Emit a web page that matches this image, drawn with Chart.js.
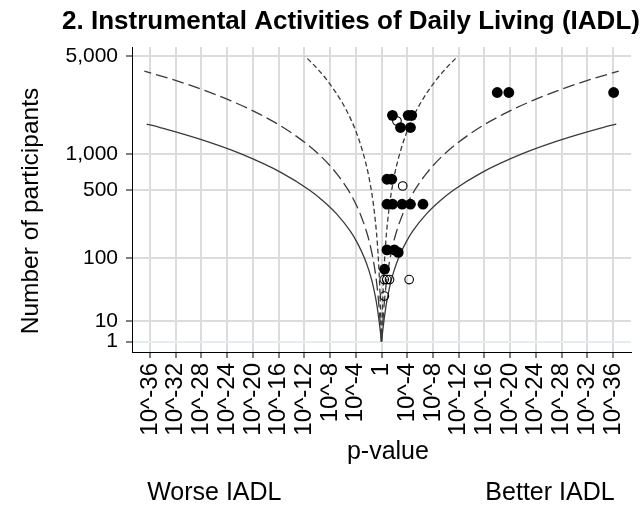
<!DOCTYPE html>
<html>
<head>
<meta charset="utf-8">
<script src="https://cdn.jsdelivr.net/npm/chart.js@4.4.1/dist/chart.umd.min.js"></script>
<style>
  html, body { margin: 0; padding: 0; background: #ffffff; }
  #wrap { width: 643px; height: 507px; }
</style>
</head>
<body>
<div id="wrap"><canvas id="c" width="643" height="507"></canvas></div>
<script>
// ---------------- data ----------------
const chartTitle = '2. Instrumental Activities of Daily Living (IADL)';
const yAxisTitle = 'Number of participants';
const xAxisTitle = 'p-value';
const leftNote = 'Worse IADL';
const rightNote = 'Better IADL';

// x ticks: signed exponent of p (negative = worse, positive = better)
const xTickExps = [-36, -32, -28, -24, -20, -16, -12, -8, -4, 0, 4, 8, 12, 16, 20, 24, 28, 32, 36];
const yTickValues = [1, 10, 100, 500, 1000, 5000];
const yTickLabels = ['1', '10', '100', '500', '1,000', '5,000'];

// studies with filled markers: signed -log10(p), participants
const filledP = [1.7, 4.15, 4.7, 2.95, 4.5, 18.0, 19.8, 36.1, 0.85, 1.6, 0.85, 1.72, 3.2, 4.5, 6.45, 0.85, 2.0, 2.6, 0.48];
const filledN = [1970, 1970, 1970, 1600, 1600, 2860, 2860, 2860, 617, 617, 369, 369, 369, 369, 369, 125, 125, 117, 73];

// studies with hollow markers
const hollowP = [2.4, 3.3, 0.42, 0.82, 1.25, 4.3, 0.45];
const hollowN = [1790, 539, 53, 53, 53, 53, 30];

// effect contours (right-hand side; left side is the mirror image)
// r = 0.3 (solid)
const c30N = [1, 5, 10, 20, 30, 50, 70, 100, 150, 200, 300, 400, 500, 700, 1000, 1300, 1600, 1700];
const c30P = [0, 0.18, 0.38, 0.69, 0.97, 1.47, 1.95, 2.64, 3.76, 4.85, 7.02, 9.16, 11.28, 15.52, 21.83, 28.13, 34.42, 36.51];
// r = 0.2 (long dash)
const c20N = [1, 10, 20, 30, 50, 70, 100, 150, 200, 300, 400, 500, 700, 1000, 1500, 2000, 2500, 3000, 3500, 4000];
const c20P = [0, 0.23, 0.39, 0.53, 0.78, 1.01, 1.34, 1.85, 2.35, 3.32, 4.27, 5.21, 7.06, 9.81, 14.36, 18.88, 23.39, 27.89, 32.39, 36.88];
// r = 0.1 (short dash)
const c10N = [1, 10, 30, 50, 70, 100, 150, 200, 300, 400, 500, 700, 1000, 1500, 2000, 2500, 3000, 3500, 4000, 4500, 5000];
const c10P = [0, 0.10, 0.22, 0.31, 0.39, 0.49, 0.65, 0.80, 1.08, 1.34, 1.60, 2.09, 2.82, 3.98, 5.13, 6.27, 7.40, 8.53, 9.65, 10.77, 11.88];

// ---------------- helpers ----------------
// vertical axis is drawn on the squared-log scale used by the original figure
const tN = n => Math.pow(Math.log10(n), 2);
const pts = (ps, ns, sign) => ps.map((p, i) => ({ x: sign * p, y: tN(ns[i]) }));

const FONT = '"Liberation Sans", Arial, Helvetica, sans-serif';
const lineCol = '#3a3a3a';

function contour(ps, ns, sign, dash) {
  return {
    type: 'line',
    data: pts(ps, ns, sign),
    showLine: true,
    borderColor: lineCol,
    borderWidth: 1.3,
    borderDash: dash,
    pointRadius: 0,
    fill: false,
    cubicInterpolationMode: 'monotone',
    order: 10
  };
}

const datasets = [
  {
    type: 'scatter',
    data: pts(filledP, filledN, 1),
    pointRadius: 5.4,
    pointBorderWidth: 0,
    pointBackgroundColor: '#000000',
    pointBorderColor: '#000000',
    order: 1
  },
  {
    type: 'scatter',
    data: pts(hollowP, hollowN, 1),
    pointRadius: 4.3,
    pointBorderWidth: 1.1,
    pointBackgroundColor: 'rgba(0,0,0,0)',
    pointBorderColor: '#000000',
    order: 2
  },
  contour(c30P, c30N, 1, []),
  contour(c30P, c30N, -1, []),
  contour(c20P, c20N, 1, [12, 5]),
  contour(c20P, c20N, -1, [12, 5]),
  contour(c10P, c10N, 1, [5, 3]),
  contour(c10P, c10N, -1, [5, 3])
];

const textPlugin = {
  id: 'texts',
  afterDraw(chart) {
    const { ctx } = chart;
    const xs = chart.scales.x;
    ctx.save();
    ctx.fillStyle = '#000000';
    ctx.textAlign = 'center';
    ctx.textBaseline = 'middle';
    ctx.font = 'bold 26px ' + FONT;
    ctx.fillText(chartTitle, 351, 22);
    ctx.font = '25px ' + FONT;
    ctx.fillText(xAxisTitle, xs.getPixelForValue(1), 452);
    ctx.fillText(leftNote, xs.getPixelForValue(-26), 493);
    ctx.fillText(rightNote, xs.getPixelForValue(26.2), 493);
    ctx.translate(31, 211);
    ctx.rotate(-Math.PI / 2);
    ctx.font = '24.5px ' + FONT;
    ctx.fillText(yAxisTitle, 0, 0);
    ctx.restore();
  }
};

new Chart(document.getElementById('c'), {
  type: 'scatter',
  data: { datasets },
  plugins: [textPlugin],
  options: {
    responsive: false,
    animation: false,
    events: [],
    layout: { padding: { top: 47, right: 12, bottom: 0, left: 0 } },
    plugins: {
      legend: { display: false },
      tooltip: { enabled: false },
      title: { display: false }
    },
    scales: {
      x: {
        type: 'linear',
        min: -38.8,
        max: 38.8,
        afterBuildTicks: s => { s.ticks = xTickExps.map(v => ({ value: v })); },
        afterFit: s => { s.height = 155; s.paddingLeft = 0; s.paddingRight = 0; },
        ticks: {
          autoSkip: false,
          minRotation: 90,
          maxRotation: 90,
          padding: 5,
          color: '#000000',
          font: { family: FONT, size: 24 },
          callback: v => (v === 0 ? '1' : '10^-' + Math.abs(v))
        },
        grid: {
          color: '#dcdcdc',
          lineWidth: 2,
          drawTicks: true,
          tickLength: 6,
          tickColor: '#000000',
          tickWidth: 1
        },
        border: { display: true, color: '#000000', width: 1 }
      },
      y: {
        type: 'linear',
        min: -0.5,
        max: 14.13,
        afterBuildTicks: s => { s.ticks = yTickValues.map(n => ({ value: tN(n) })); },
        afterFit: s => { s.width = 132; s.paddingTop = 0; s.paddingBottom = 0; },
        ticks: {
          autoSkip: false,
          padding: 8,
          color: '#000000',
          font: { family: FONT, size: 21 },
          callback: (v, i) => yTickLabels[i]
        },
        grid: {
          color: ctx => (ctx.tick && ctx.tick.value === 0 ? '#e4edf0' : '#dcdcdc'),
          lineWidth: 2,
          drawTicks: true,
          tickLength: 6,
          tickColor: '#000000',
          tickWidth: 1
        },
        border: { display: true, color: '#000000', width: 1 }
      }
    }
  }
});
</script>
</body>
</html>
